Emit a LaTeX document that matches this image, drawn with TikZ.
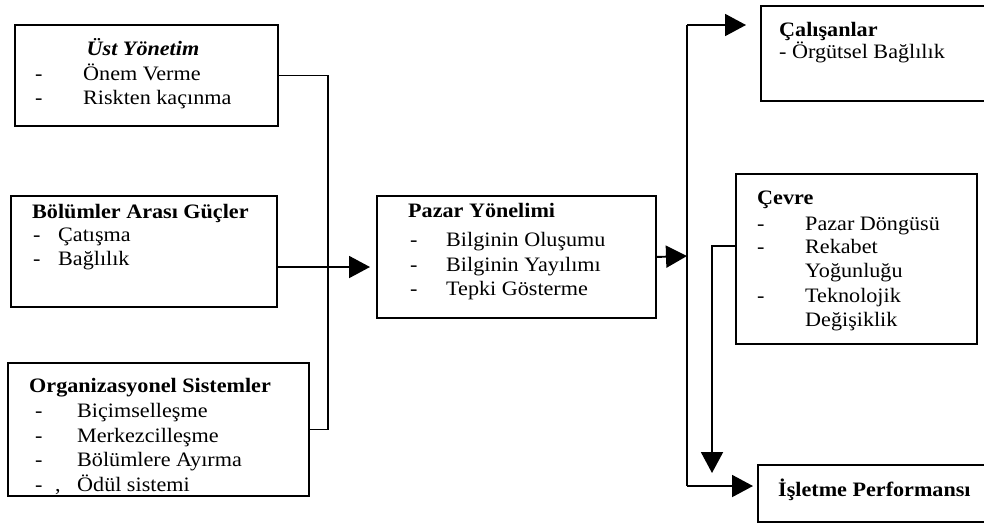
\documentclass[tikz,border=0pt]{standalone}
\usepackage{fontspec}
\setmainfont{Liberation Serif}[FakeStretch=1.08]
\usetikzlibrary{arrows.meta}
\begin{document}
\begin{tikzpicture}[x=1pt,y=-1pt,
  box/.style={draw, line width=1.9pt, rectangle, inner sep=0pt, anchor=north west},
  txt/.style={anchor=base west, inner sep=0pt, font=\fontsize{20.5}{24}\selectfont},
  head/.style={txt, font=\fontsize{20.5}{24}\selectfont\bfseries},
  link/.style={line width=1.9pt},
  arr/.style={link, -{Triangle[length=21pt,width=22pt]}}]
\useasboundingbox (0,0) rectangle (984,523);
\clip (0,0) rectangle (984,523);
\fill[white] (0,0) rectangle (984,523);

% boxes
\node[box, minimum width=263pt, minimum height=101pt] (ust) at (14,24) {};
\node[box, minimum width=266pt, minimum height=111pt] (bol) at (10,195) {};
\node[box, minimum width=301pt, minimum height=133pt] (org) at (7,362) {};
\node[box, minimum width=279pt, minimum height=122pt] (paz) at (376,195) {};
\node[box, minimum width=250pt, minimum height=95pt] (cal) at (760,5) {};
\node[box, minimum width=241pt, minimum height=170pt] (cev) at (735,173) {};
\node[box, minimum width=250pt, minimum height=57pt] (isl) at (757,464) {};

% Üst Yönetim
\node[head, anchor=base, font=\fontsize{20.5}{24}\selectfont\bfseries\itshape] (ust-t) at (143,55) {Üst Yönetim};
\node[txt] (ust-d1) at (35,80) {-};
\node[txt] (ust-1) at (83,80) {Önem Verme};
\node[txt] (ust-d2) at (35,104) {-};
\node[txt] (ust-2) at (83,104) {Riskten kaçınma};

% Bölümler Arası Güçler
\node[head] (bol-t) at (32,218) {Bölümler Arası Güçler};
\node[txt] (bol-d1) at (33,241) {-};
\node[txt] (bol-1) at (58,241) {Çatışma};
\node[txt] (bol-d2) at (33,265) {-};
\node[txt] (bol-2) at (58,265) {Bağlılık};

% Organizasyonel Sistemler
\node[head] (org-t) at (29,392) {Organizasyonel Sistemler};
\node[txt] (org-d1) at (35,417) {-};
\node[txt] (org-1) at (77,417) {Biçimselleşme};
\node[txt] (org-d2) at (35,442) {-};
\node[txt] (org-2) at (77,442) {Merkezcilleşme};
\node[txt] (org-d3) at (35,466) {-};
\node[txt] (org-3) at (77,466) {Bölümlere Ayırma};
\node[txt] (org-d4) at (35,491) {-};
\node[txt] (org-c4) at (55,491) {,};
\node[txt] (org-4) at (77,491) {Ödül sistemi};

% Pazar Yönelimi
\node[head] (paz-t) at (408,217) {Pazar Yönelimi};
\node[txt] (paz-d1) at (410,246) {-};
\node[txt] (paz-1) at (446,246) {Bilginin Oluşumu};
\node[txt] (paz-d2) at (410,271) {-};
\node[txt] (paz-2) at (446,271) {Bilginin Yayılımı};
\node[txt] (paz-d3) at (410,295) {-};
\node[txt] (paz-3) at (446,295) {Tepki Gösterme};

% Çalışanlar
\node[head] (cal-t) at (779,36) {Çalışanlar};
\node[txt] (cal-1) at (779,58) {- Örgütsel Bağlılık};

% Çevre
\node[head] (cev-t) at (757,204) {Çevre};
\node[txt] (cev-d1) at (757,230) {-};
\node[txt] (cev-1) at (805,230) {Pazar Döngüsü};
\node[txt] (cev-d2) at (757,253) {-};
\node[txt] (cev-2) at (805,253) {Rekabet};
\node[txt] (cev-2b) at (805,277) {Yoğunluğu};
\node[txt] (cev-d3) at (757,302) {-};
\node[txt] (cev-3) at (805,302) {Teknolojik};
\node[txt] (cev-3b) at (805,326) {Değişiklik};

% İşletme Performansı
\node[head] (isl-t) at (778,496) {İşletme Performansı};

% connectors on the left: three sources merging into Pazar Yönelimi
\coordinate (jn) at (328,267);
\draw[link] (ust.east) -| (jn);
\draw[link] (org.east) -| (jn);
\draw[arr, shorten >=6pt] (bol.east |- jn) -- (paz.west |- jn);

% connectors on the right
\coordinate (sp) at (687,256);
\coordinate (spt) at (687,25);
\coordinate (spb) at (687,486);
\draw[arr] (paz.east) -- (sp);
\draw[link] (spt) -- (spb);
\draw[arr, shorten >=14pt] (spt) -- (cal.west |- spt);
\draw[arr, shorten >=4pt] (spb) -- (isl.west |- spb);
\coordinate (cv) at (712,246);
\coordinate (cvend) at (712,473);
\draw[arr] (cev.west |- cv) -- (cv) -- (cvend);
\end{tikzpicture}
\end{document}
